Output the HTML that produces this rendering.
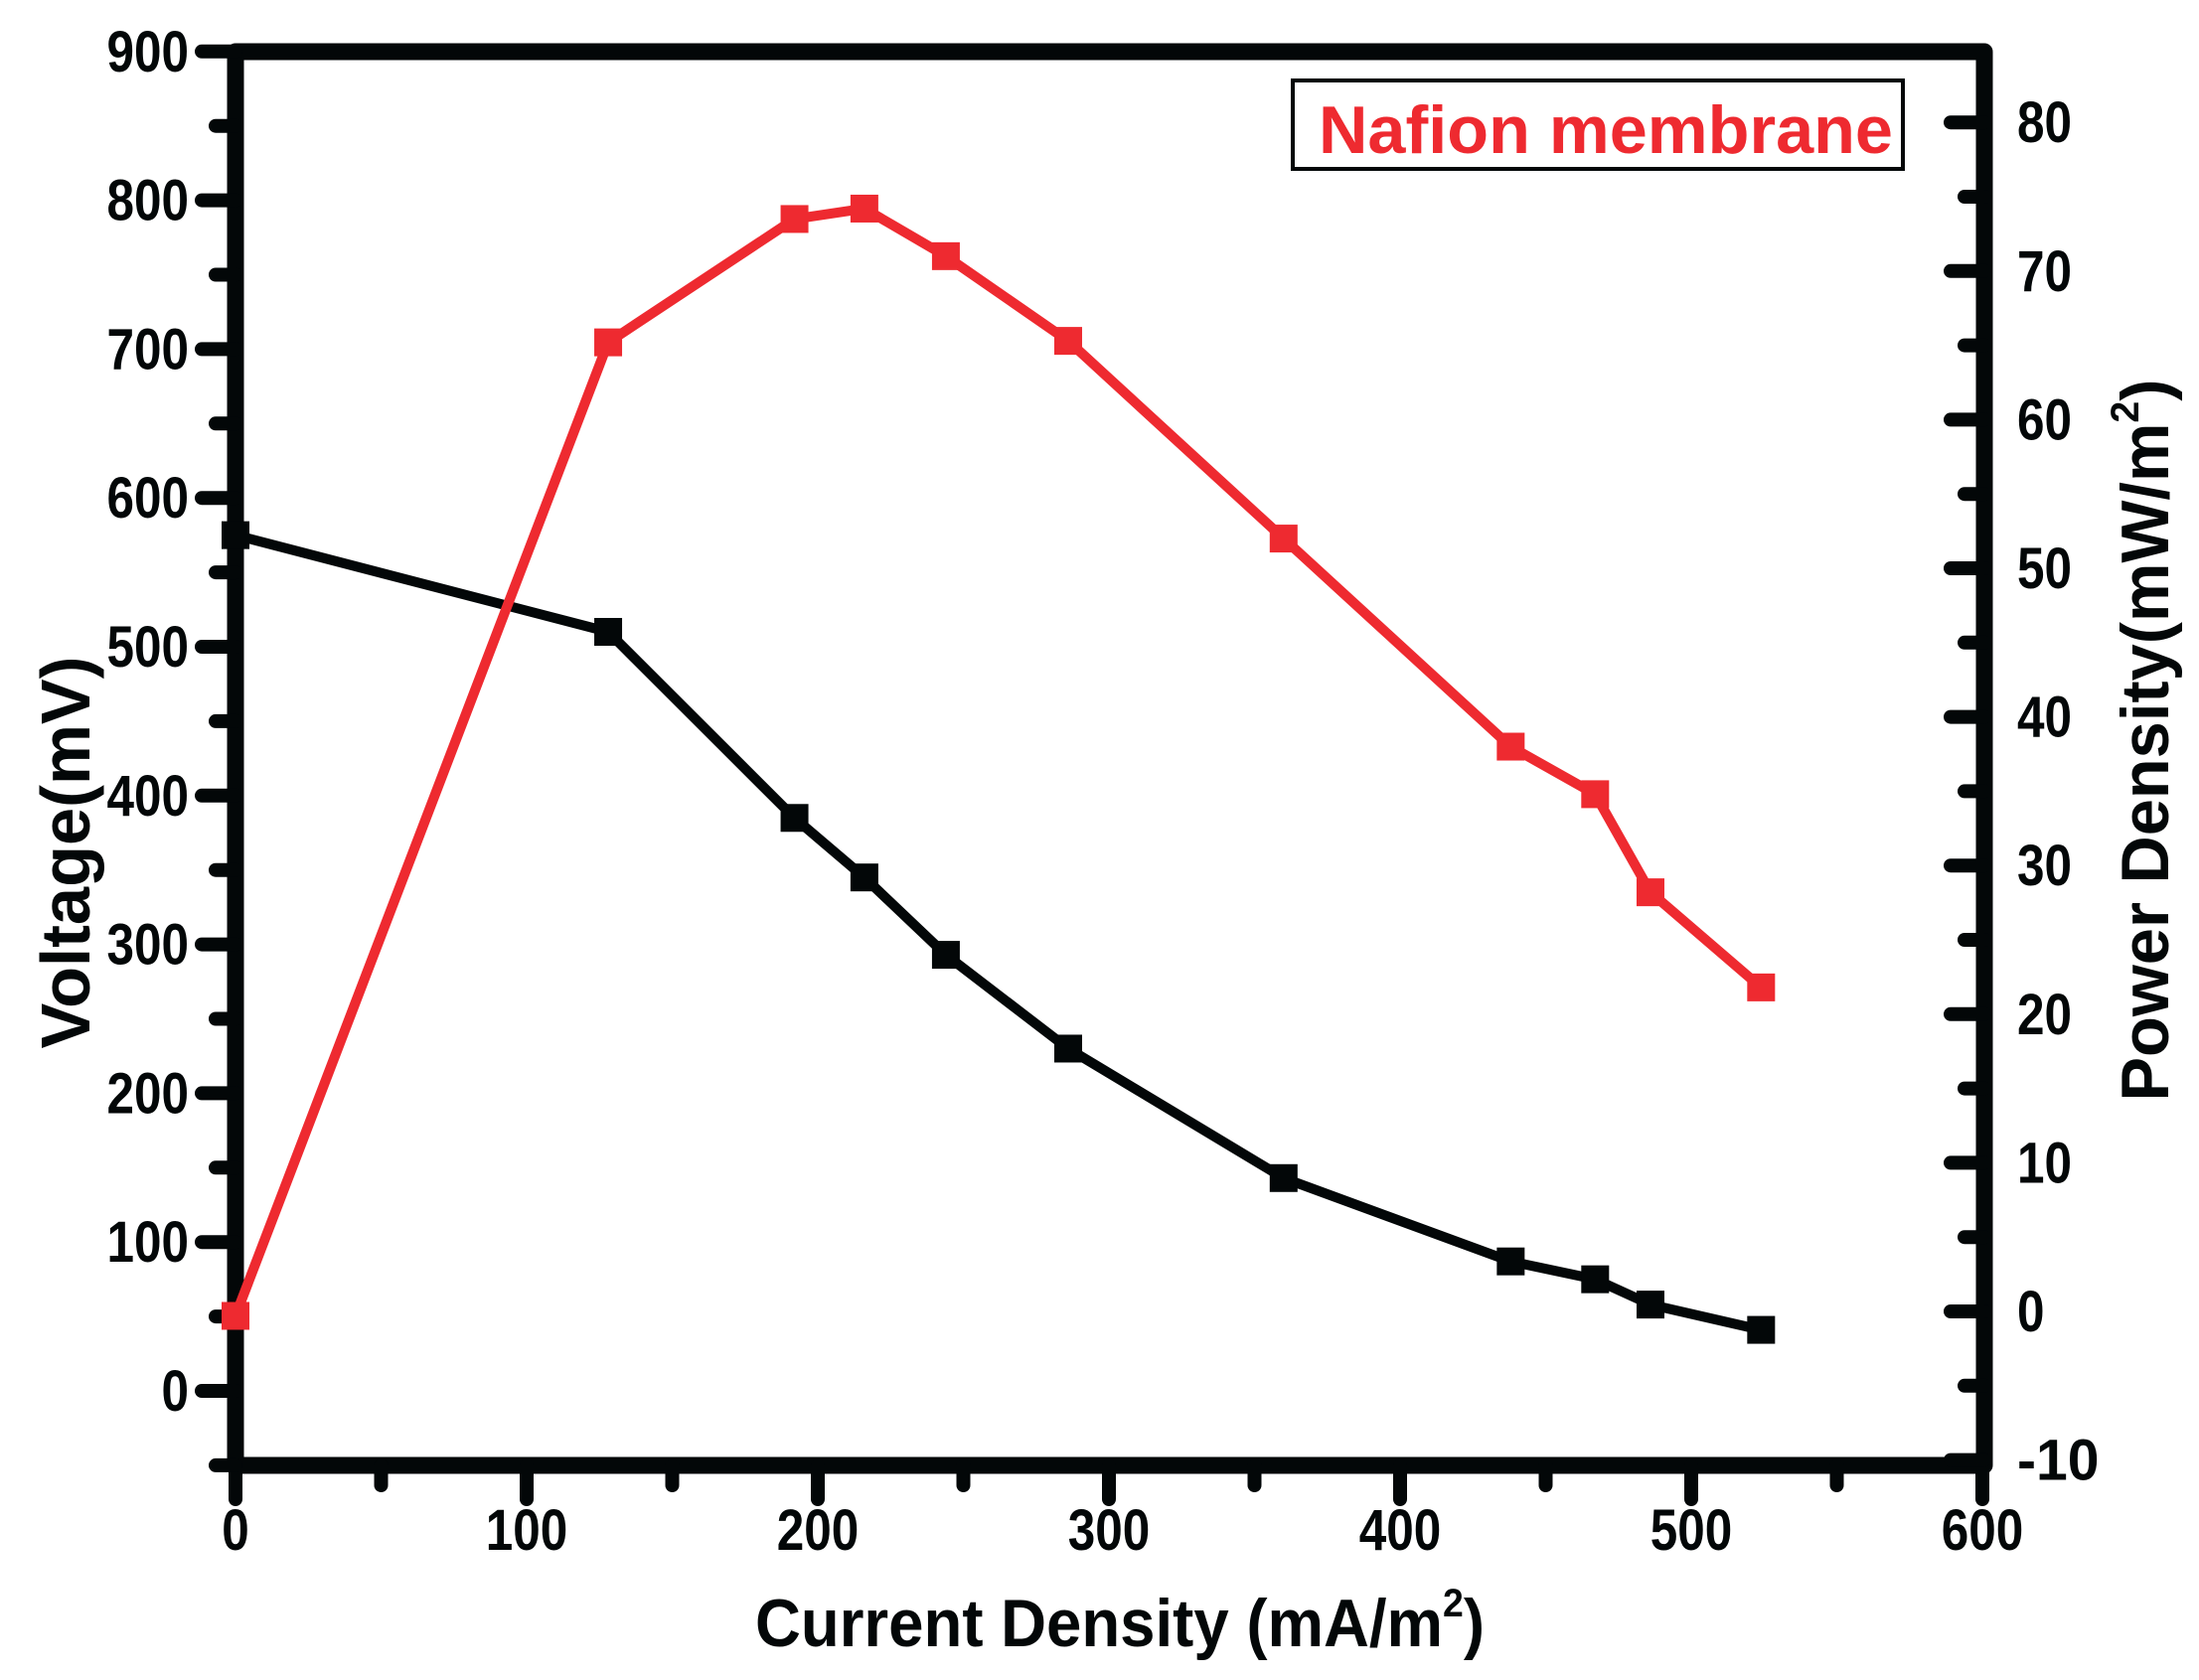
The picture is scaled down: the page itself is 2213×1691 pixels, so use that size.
<!DOCTYPE html>
<html><head><meta charset="utf-8"><style>
html,body{margin:0;padding:0;background:#fff;}
svg{display:block;font-family:"Liberation Sans",Arial,sans-serif;font-weight:bold;}
</style></head><body>
<svg id="chart" xmlns="http://www.w3.org/2000/svg" width="2213" height="1691" viewBox="0 0 2213 1691">
<rect width="2213" height="1691" fill="#fff"/>
<g id="axes"></g>
<g id="series"></g>
<rect x="1301" y="81" width="614" height="89" fill="#fff" stroke="#030708" stroke-width="4"/>
<text x="1327" y="154" font-size="68" fill="#ee2a30" textLength="578" lengthAdjust="spacingAndGlyphs">Nafion membrane</text>
<text x="1127" y="1657" font-size="68" text-anchor="middle" fill="#030708" textLength="734" lengthAdjust="spacingAndGlyphs">Current Density (mA/m<tspan dy="-30" font-size="40">2</tspan><tspan dy="30">)</tspan></text>
<text transform="translate(90,858) rotate(-90)" font-size="70" text-anchor="middle" fill="#030708" textLength="395" lengthAdjust="spacingAndGlyphs">Voltage(mV)</text>
<text transform="translate(2182,745) rotate(-90)" font-size="68" text-anchor="middle" fill="#030708" textLength="727" lengthAdjust="spacingAndGlyphs">Power Density(mW/m<tspan dy="-30" font-size="40">2</tspan><tspan dy="30">)</tspan></text>
</svg>
<script>
const currentDensity = [0,128,192,216,244,286,360,438,467,486,524];
const voltage = [575,510,385,345,293,230,143,87,75,58,41];
const power = [-0.3,65.2,73.5,74.2,71,65.3,52,38,34.8,28.2,21.8];
const xTicks = [0,100,200,300,400,500,600];
const yLeftTicks = [0,100,200,300,400,500,600,700,800,900];
const yRightTicks = [-10,0,10,20,30,40,50,60,70,80];

const NS="http://www.w3.org/2000/svg";
const X0=237, X1=1997, YT=52, YB=1475;
function sx(v){return 237+(v/600)*(1995-237);}
function syL(v){return 1400-(v/100)*149.8;}
function syR(v){return 1320-v*14.96;}
function mk(tag,attrs,parent){const e=document.createElementNS(NS,tag);for(const k in attrs)e.setAttribute(k,attrs[k]);parent.appendChild(e);return e;}
const axes=document.getElementById('axes');
const series=document.getElementById('series');
const K="#030708", R="#ee2a30";
function lbl(v,x,y,anchor,name){
  const s=String(v);
  const t=mk('text',{x:x,y:y,'font-size':58,'text-anchor':anchor,fill:K,textLength:s.length*27.5,lengthAdjust:'spacingAndGlyphs'},axes);
  t.textContent=s;
  
  
}

let fr=mk('path',{d:`M${X0} ${YB} L${X0} ${YT} L${X1} ${YT} L${X1} ${YB} Z`,fill:'none',stroke:K,'stroke-width':17,'stroke-linejoin':'round'},axes);



for(let v=0;v<=600;v+=50){
  const major=v%100===0;
  const t=mk('line',{x1:sx(v),y1:YB,x2:sx(v),y2:YB+(major?34:20),stroke:K,'stroke-width':14,'stroke-linecap':'round'},axes);
  
  
}
xTicks.forEach(v=>lbl(v,sx(v),1560,'middle','x-tick-label'));
for(let v=-50;v<=900;v+=50){
  const major=v%100===0;
  const t=mk('line',{x1:X0,y1:syL(v),x2:X0-(major?34:20),y2:syL(v),stroke:K,'stroke-width':14,'stroke-linecap':'round'},axes);
  
  
}
yLeftTicks.forEach(v=>lbl(v,190,syL(v)+20,'end','y-left-tick-label'));
for(let v=-10;v<=80;v+=5){
  const major=v%10===0;
  const t=mk('line',{x1:X1,y1:syR(v),x2:X1-(major?34:20),y2:syR(v),stroke:K,'stroke-width':14,'stroke-linecap':'round'},axes);
  
  
}
yRightTicks.forEach(v=>lbl(v,2030,syR(v)+20,'start','y-right-tick-label'));

function drawSeries(vals,sy,color,name){
  const pts=currentDensity.map((x,i)=>[sx(x),sy(vals[i])]);
  const pl=mk('polyline',{points:pts.map(p=>p.join(',')).join(' '),fill:'none',stroke:color,'stroke-width':10,'stroke-linejoin':'round','stroke-linecap':'round'},series);
  
  
  pts.forEach(p=>{
    const r=mk('rect',{x:p[0]-14,y:p[1]-14,width:28,height:28,fill:color},series);
    
    
  });
}
drawSeries(voltage,syL,K,'voltage');
drawSeries(power,syR,R,'power');
</script>
</body></html>
